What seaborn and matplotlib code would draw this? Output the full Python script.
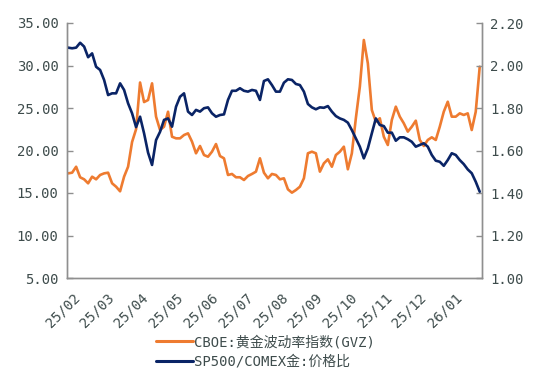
import numpy as np
import pandas as pd
import matplotlib
matplotlib.use('Agg')
import matplotlib.pyplot as plt
import matplotlib.ticker as ticker
from matplotlib.lines import Line2D
import seaborn as sns

# ---------------------------------------------
# DATA
# ---------------------------------------------
dates = pd.date_range('2025-02-02', '2026-01-30', periods=104)

# CBOE gold volatility index (left axis)
gvz = [
    17.31, 17.39, 18.09, 16.85, 16.61, 16.14, 16.92, 16.61, 17.12, 17.31, 17.39, 16.14, 15.74, 15.20, 16.92, 18.09, 21.00, 22.50,
    28.00, 25.70, 25.94, 27.90, 23.98, 22.41, 22.80, 24.56, 21.62, 21.43, 21.43, 21.82, 22.02, 21.04, 19.67, 20.53, 19.47,
    19.27, 19.86, 20.76, 19.35, 19.08, 17.12, 17.24, 16.85, 16.85, 16.53, 17.00, 17.24, 17.51, 19.08, 17.39, 16.73, 17.24, 17.12,
    16.61, 16.73, 15.43, 15.04, 15.35, 15.74, 16.73, 19.67, 19.86, 19.67, 17.51, 18.49, 18.96, 18.09, 19.47, 19.86, 20.45,
    17.79, 19.67, 23.79, 27.51, 33.00, 30.26, 24.76, 23.39, 23.79, 21.62, 20.65, 23.59, 25.16, 23.98, 23.20, 22.22, 22.80, 23.51,
    21.24, 20.53, 21.24, 21.55, 21.24, 22.80, 24.56, 25.74, 23.98, 23.98, 24.37, 24.18, 24.37, 22.41, 24.56, 29.86,
]

# SP500 / COMEX gold price ratio (right axis)
ratio = [
    2.084, 2.081, 2.084, 2.107, 2.089, 2.039, 2.057, 1.994, 1.979, 1.932, 1.861, 1.869, 1.869, 1.916, 1.885, 1.822, 1.775, 1.710,
    1.759, 1.681, 1.590, 1.532, 1.649, 1.688, 1.744, 1.751, 1.712, 1.806, 1.853, 1.869, 1.783, 1.767, 1.791, 1.783, 1.799,
    1.803, 1.775, 1.759, 1.767, 1.770, 1.838, 1.881, 1.881, 1.893, 1.881, 1.877, 1.885, 1.881, 1.838, 1.927, 1.935, 1.908, 1.877,
    1.877, 1.919, 1.935, 1.932, 1.913, 1.908, 1.877, 1.819, 1.803, 1.794, 1.803, 1.801, 1.809, 1.783, 1.762, 1.751, 1.744,
    1.731, 1.696, 1.657, 1.618, 1.563, 1.610, 1.681, 1.751, 1.720, 1.715, 1.684, 1.684, 1.646, 1.662, 1.662, 1.653, 1.641, 1.618,
    1.626, 1.634, 1.618, 1.579, 1.552, 1.547, 1.528, 1.555, 1.587, 1.579, 1.555, 1.536, 1.511, 1.493, 1.453, 1.406,
]

month_labels = ['25/02', '25/03', '25/04', '25/05', '25/06', '25/07',
                '25/08', '25/09', '25/10', '25/11', '25/12', '26/01']
left_ticks = [5, 10, 15, 20, 25, 30, 35]
right_ticks = [1.0, 1.2, 1.4, 1.6, 1.8, 2.0, 2.2]
label_gvz = 'CBOE:黄金波动率指数(GVZ)'
label_ratio = 'SP500/COMEX金:价格比'

df = pd.DataFrame({'date': dates, 'gvz': gvz, 'ratio': ratio})

# ---------------------------------------------
# STYLE
# ---------------------------------------------
sns.set_style('white')
plt.rcParams['font.family'] = ['DejaVu Sans Mono', 'Noto Sans CJK SC', 'DejaVu Sans']

ORANGE = '#EE7B30'
NAVY = '#0A2466'
AXIS_GRAY = '#8F8F8F'
TEXT_COL = '#3E4C4C'

fig = plt.figure(figsize=(5.42, 3.78), dpi=100)
ax = fig.add_axes([67 / 542, 100 / 378, 415 / 542, 255 / 378])
ax2 = ax.twinx()

sns.lineplot(data=df, x='date', y='gvz', ax=ax, color=ORANGE, linewidth=1.9)
sns.lineplot(data=df, x='date', y='ratio', ax=ax2, color=NAVY, linewidth=1.9)

# x axis: month boundaries as ticks, labels centred in each month
month_starts = pd.date_range('2025-02-01', '2026-02-01', freq='MS')
month_mids = month_starts[:-1] + (month_starts[1:] - month_starts[:-1]) / 2
ax.set_xlim(month_starts[0], month_starts[-1])
ax.set_xticks(month_starts)
ax.set_xticklabels([])
ax.set_xticks(month_mids, minor=True)
ax.set_xticklabels(month_labels, minor=True, rotation=45, ha='right')
ax.tick_params(axis='x', which='major', direction='in', length=4, width=1, color=AXIS_GRAY)
ax.tick_params(axis='x', which='minor', length=0, pad=9, labelsize=10, labelcolor=TEXT_COL)

ax.set_ylim(5, 35)
ax.set_yticks(left_ticks)
ax.yaxis.set_major_formatter(ticker.FormatStrFormatter('%.2f'))
ax2.set_ylim(1.0, 2.2)
ax2.set_yticks(right_ticks)
ax2.yaxis.set_major_formatter(ticker.FormatStrFormatter('%.2f'))
for a in (ax, ax2):
    a.tick_params(axis='y', direction='in', length=4, width=1, color=AXIS_GRAY,
                  labelsize=10, labelcolor=TEXT_COL, pad=6)
    a.set_xlabel('')
    a.set_ylabel('')
    a.spines['top'].set_visible(False)
    for s in ('left', 'right', 'bottom'):
        a.spines[s].set_color(AXIS_GRAY)
        a.spines[s].set_linewidth(1)

handles = [Line2D([0], [0], color=ORANGE, lw=2.2), Line2D([0], [0], color=NAVY, lw=2.2)]
fig.legend(handles, [label_gvz, label_ratio], loc='upper center',
           bbox_to_anchor=(0.49, 0.128), frameon=False, fontsize=10,
           handlelength=2.6, handletextpad=0.1, labelspacing=0.4,
           borderaxespad=0, labelcolor=TEXT_COL)

fig.savefig('out.png', dpi=100)
plt.close(fig)
